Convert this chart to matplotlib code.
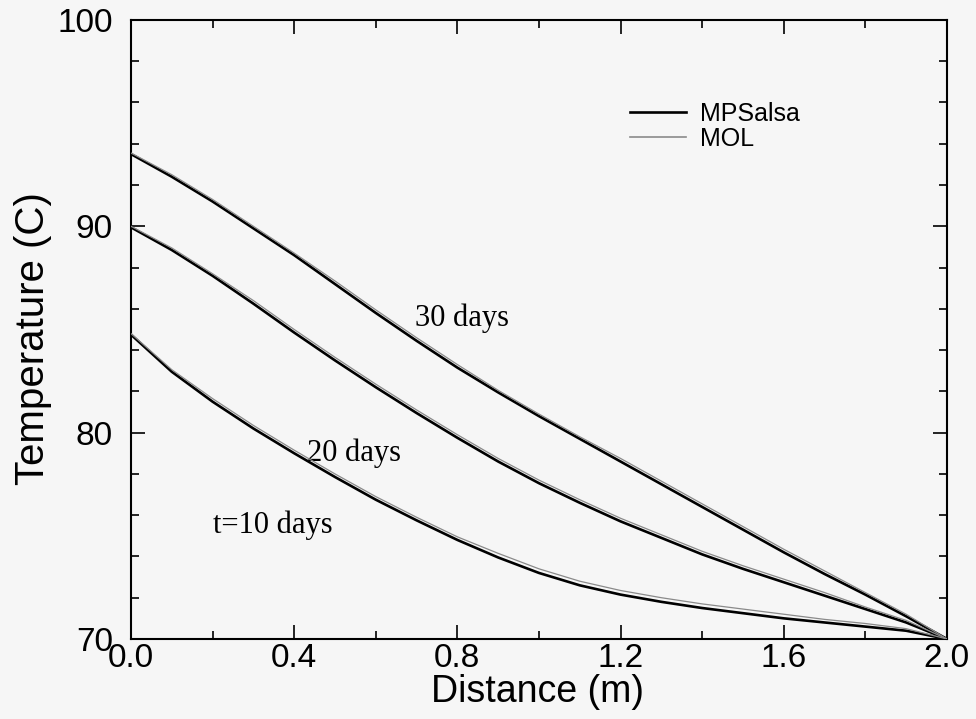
import matplotlib
matplotlib.use("Agg")
import matplotlib.pyplot as plt
from matplotlib.ticker import MultipleLocator, FormatStrFormatter

plt.rcParams.update({
    "font.family": ["Liberation Sans", "DejaVu Sans"],
})

# --- data ---
distance = [0.0, 0.1, 0.2, 0.3, 0.4, 0.5, 0.6, 0.7, 0.8, 0.9, 1.0,
            1.1, 1.2, 1.3, 1.4, 1.5, 1.6, 1.7, 1.8, 1.9, 2.0]

mpsalsa_30 = [93.5, 92.4, 91.2, 89.9, 88.6, 87.2, 85.8, 84.45, 83.15, 81.95, 80.8,
              79.7, 78.6, 77.5, 76.4, 75.3, 74.2, 73.15, 72.15, 71.1, 70.0]
mpsalsa_20 = [89.95, 88.85, 87.6, 86.25, 84.85, 83.5, 82.2, 80.95, 79.75, 78.6, 77.55,
              76.6, 75.7, 74.9, 74.1, 73.4, 72.75, 72.1, 71.45, 70.8, 70.0]
mpsalsa_10 = [84.75, 82.95, 81.5, 80.2, 79.0, 77.85, 76.75, 75.75, 74.8, 73.95, 73.2,
              72.6, 72.15, 71.8, 71.5, 71.25, 71.0, 70.8, 70.6, 70.4, 70.0]

mol_30 = [93.55, 92.5, 91.3, 90.0, 88.7, 87.35, 85.95, 84.6, 83.3, 82.05, 80.9,
          79.8, 78.75, 77.65, 76.55, 75.45, 74.35, 73.3, 72.25, 71.2, 70.0]
mol_20 = [90.0, 88.95, 87.7, 86.4, 85.0, 83.65, 82.35, 81.1, 79.9, 78.75, 77.7,
          76.75, 75.85, 75.05, 74.25, 73.55, 72.9, 72.25, 71.55, 70.9, 70.0]
mol_10 = [84.8, 83.05, 81.65, 80.35, 79.15, 78.0, 76.9, 75.9, 74.95, 74.15, 73.4,
          72.8, 72.35, 72.0, 71.7, 71.45, 71.2, 70.95, 70.75, 70.5, 70.0]

# curve labels: (text, x, y at baseline)
curve_labels = [
    ("30 days", 0.811, 85.17),
    ("20 days", 0.546, 78.63),
    ("t=10 days", 0.348, 75.14),
]

bg = '#f6f6f6'
fig = plt.figure(figsize=(9.76, 7.19), dpi=100, facecolor=bg)
ax = fig.add_axes([0.1342, 0.1113, 0.836, 0.861])
ax.set_facecolor(bg)

for ys in (mpsalsa_30, mpsalsa_20, mpsalsa_10):
    ax.plot(distance, ys, color='black', linewidth=1.9, zorder=3)
for ys in (mol_30, mol_20, mol_10):
    ax.plot(distance, ys, color='#8a8a8a', linewidth=0.9, zorder=4)

# legend handles only
h1, = ax.plot([], [], color='black', linewidth=1.9)
h2, = ax.plot([], [], color='#8a8a8a', linewidth=1.2)
leg = ax.legend([h1, h2], ['MPSalsa', 'MOL'], loc='upper left',
                bbox_to_anchor=(0.6115, 0.868), frameon=False,
                borderpad=0, borderaxespad=0, handlelength=2.25,
                handletextpad=0.55, labelspacing=0.05, fontsize=18)

for txt, x, y in curve_labels:
    ax.text(x, y, txt, ha='center', va='baseline', fontsize=22,
            family=['Liberation Serif', 'DejaVu Serif'])

ax.set_xlim(0, 2.0)
ax.set_ylim(70, 100)
ax.xaxis.set_major_locator(MultipleLocator(0.4))
ax.xaxis.set_minor_locator(MultipleLocator(0.2))
ax.yaxis.set_major_locator(MultipleLocator(10))
ax.yaxis.set_minor_locator(MultipleLocator(2))
ax.xaxis.set_major_formatter(FormatStrFormatter('%.1f'))
ax.yaxis.set_major_formatter(FormatStrFormatter('%d'))

ax.tick_params(which='both', direction='in', top=True, right=True, width=1.2, color='black')
ax.tick_params(which='major', length=10, labelsize=24)
ax.tick_params(which='minor', length=5.5)
ax.tick_params(axis='x', which='major', pad=3)
ax.tick_params(axis='y', which='major', pad=13)

for spine in ax.spines.values():
    spine.set_linewidth(1.5)

ax.set_xlabel('Distance (m)', fontsize=27)
ax.set_ylabel('Temperature (C)', fontsize=29)
ax.xaxis.set_label_coords(0.4988, -0.0565)
ax.yaxis.set_label_coords(-0.0968, 0.4847)

fig.savefig('out.png', dpi=100, facecolor=bg)
